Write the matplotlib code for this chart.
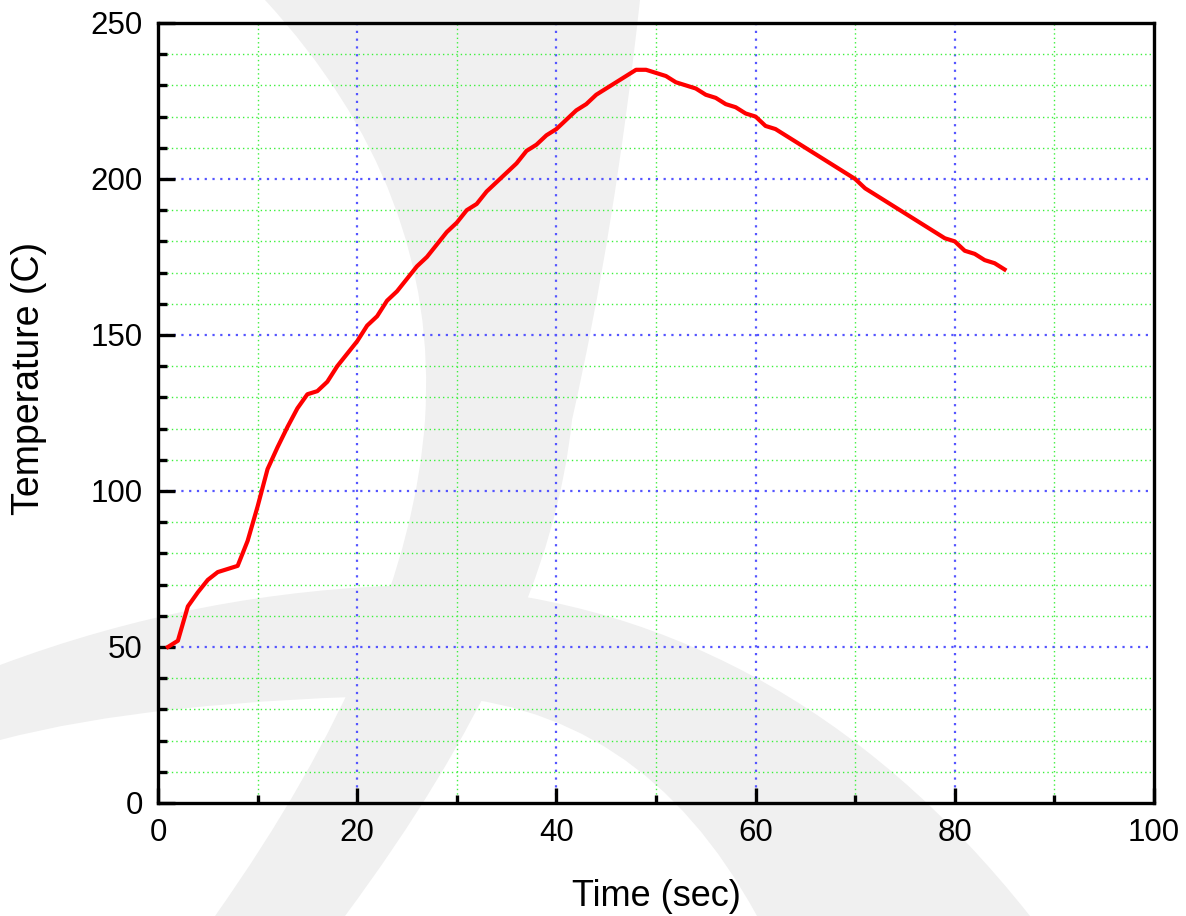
import matplotlib
matplotlib.use("Agg")
import matplotlib.pyplot as plt
from matplotlib.ticker import MultipleLocator
from matplotlib.patches import PathPatch
from matplotlib.path import Path
from matplotlib.transforms import Affine2D

plt.rcParams['font.family'] = ['Liberation Sans', 'DejaVu Sans']

# time (sec) and temperature (C)
time_s = [1, 2, 3, 4, 5, 6, 7, 8, 9, 10,
          11, 12, 13, 14, 15, 16, 17, 18, 19, 20,
          21, 22, 23, 24, 25, 26, 27, 28, 29, 30,
          31, 32, 33, 34, 35, 36, 37, 38, 39, 40,
          41, 42, 43, 44, 45, 46, 47, 48, 49, 50,
          51, 52, 53, 54, 55, 56, 57, 58, 59, 60,
          61, 62, 63, 64, 65, 66, 67, 68, 69, 70,
          71, 72, 73, 74, 75, 76, 77, 78, 79, 80,
          81, 82, 83, 84, 85]
temp_c = [50, 52, 63, 67.5, 71.5, 74, 75, 76, 84, 95,
          107, 114, 120.5, 126.5, 131, 132, 135, 140, 144, 148,
          153, 156, 161, 164, 168, 172, 175, 179, 183, 186,
          190, 192, 196, 199, 202, 205, 209, 211, 214, 216,
          219, 222, 224, 227, 229, 231, 233, 235, 235, 234,
          233, 231, 230, 229, 227, 226, 224, 223, 221, 220,
          217, 216, 214, 212, 210, 208, 206, 204, 202, 200,
          197, 195, 193, 191, 189, 187, 185, 183, 181, 180,
          177, 176, 174, 173, 171]

x_major = [0, 20, 40, 60, 80, 100]
y_major = [0, 50, 100, 150, 200, 250]

fig = plt.figure(figsize=(11.86, 9.16), dpi=100, facecolor='white')

# faint grey watermark swooshes behind the plot (pixel coords, y down)
px = Affine2D().scale(1 / 1186, -1 / 916).translate(0, 1) + fig.transFigure
M, C, L, Z = Path.MOVETO, Path.CURVE3, Path.LINETO, Path.CLOSEPOLY
swoosh_a = Path([(265, 0), (440, 190), (425, 420), (410, 640), (215, 916),
                 (345, 916), (550, 640), (572, 420), (615, 230), (640, 0),
                 (265, 0)],
                [M, C, C, C, C, L, C, C, C, C, Z])
swoosh_b = Path([(0, 665), (200, 590), (415, 585), (780, 600), (1030, 916),
                 (757, 916), (640, 700), (420, 695), (150, 700), (0, 740),
                 (0, 665)],
                [M, C, C, C, C, L, C, C, C, C, Z])
for p in (swoosh_a, swoosh_b):
    fig.add_artist(PathPatch(p, transform=px, facecolor='#f0f0f0',
                             edgecolor='none', zorder=0))

ax = fig.add_axes([0.1332, 0.1234, 0.8398, 0.8515])
ax.set_facecolor('none')

# grid: green dotted on minor, blue dotted on major
for v in range(10, 100, 10):
    ax.axvline(v, color='#3df03d' if v % 20 else '#5555ff',
               lw=1.0 if v % 20 else 1.6,
               ls=(0, (1, 2.2)) if v % 20 else (0, (1, 2.5)), zorder=1)
for v in range(10, 250, 10):
    ax.axhline(v, color='#3df03d' if v % 50 else '#5555ff',
               lw=1.0 if v % 50 else 1.6,
               ls=(0, (1, 2.2)) if v % 50 else (0, (1, 2.5)), zorder=1)

ax.plot(time_s, temp_c, color='#ff0000', lw=3.0, zorder=3)

ax.set_xlim(0, 100)
ax.set_ylim(0, 250)
ax.set_xticks(x_major)
ax.set_yticks(y_major)
ax.xaxis.set_minor_locator(MultipleLocator(10))
ax.yaxis.set_minor_locator(MultipleLocator(10))
ax.tick_params(which='both', direction='in', top=False, right=False,
               width=2.4, labelsize=22.5, pad=11)
ax.tick_params(axis='x', which='major', length=11)
ax.tick_params(axis='x', which='minor', length=5.5)
ax.tick_params(axis='y', which='major', length=12)
ax.tick_params(axis='y', which='minor', length=6.5)
for s in ax.spines.values():
    s.set_linewidth(2.4)

ax.set_xlabel('Time (sec)', fontsize=26)
ax.set_ylabel('Temperature (C)', fontsize=27)
ax.xaxis.set_label_coords(0.5, -0.097)
ax.yaxis.set_label_coords(-0.111, 0.544)

fig.savefig('out.png', dpi=100, facecolor='white')
